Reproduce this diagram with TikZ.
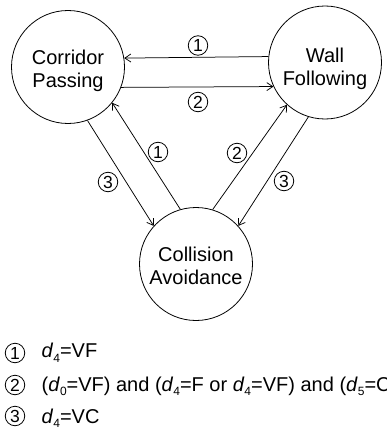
\documentclass[tikz,border=0pt]{standalone}
\usepackage{fontspec}
\setmainfont{Liberation Sans}
\usetikzlibrary{arrows.meta}
\newcommand\dsb[1]{\textit{d}\raisebox{-4.5pt}{\fontsize{12}{12}\selectfont #1}}
\begin{document}
\begin{tikzpicture}[x=1pt,y=-1pt,
  state/.style={circle,draw,line width=0.8pt,minimum size=113pt,inner sep=0pt},
  stext/.style={align=center,font=\fontsize{20}{22.5}\selectfont,inner sep=0pt},
  num/.style={circle,draw,line width=0.8pt,minimum size=19.5pt,inner sep=0pt,font=\fontsize{17.5}{17.5}\selectfont},
  trans/.style={line width=0.75pt,-{Straight Barb[length=6pt,width=8pt]}},
  legtext/.style={anchor=base west,inner sep=0pt,font=\fontsize{20}{20}\selectfont}]
\useasboundingbox (0,0) rectangle (386,436);
% states
\node[state] (cp) at (68,67) {};
\node[stext] (cpt) at (68,70.8) {Corridor\\Passing};
\node[state] (wf) at (325,62.5) {};
\node[stext] (wft) at (325,68.8) {Wall\\Following};
\node[state] (ca) at (196,264) {};
\node[stext] (cat) at (196,266) {Collision\\Avoidance};
% transitions
\draw[trans] (wf.174.8) -- (cp.9.8);
\draw[trans] (cp.339.1) -- (wf.205.8);
\draw[trans] (cp.-70.9) -- (ca.138.6);
\draw[trans] (ca.106) -- (cp.-39.3);
\draw[trans] (ca.73.1) -- (wf.228);
\draw[trans] (wf.253.2) -- (ca.42.8);
% transition labels
\node[num] (t1) at (198,45.5) {1};
\node[num] (t2) at (198,102) {2};
\node[num] (t3) at (158,152) {1};
\node[num] (t4) at (108,182) {3};
\node[num] (t5) at (237,153) {2};
\node[num] (t6) at (284,181) {3};
% legend
\node[num] (n1) at (15,353) {1};
\node[num] (n2) at (15,385) {2};
\node[num] (n3) at (15,416) {3};
\node[legtext] (l1) at (41.5,357.5) {\dsb{4}=VF};
\node[legtext] (l2) at (41.5,391) {(\dsb{0}=VF) and (\dsb{4}=F or \dsb{4}=VF) and (\dsb{5}=C};
\node[legtext] (l3) at (41.5,423.3) {\dsb{4}=VC};
\end{tikzpicture}
\end{document}
